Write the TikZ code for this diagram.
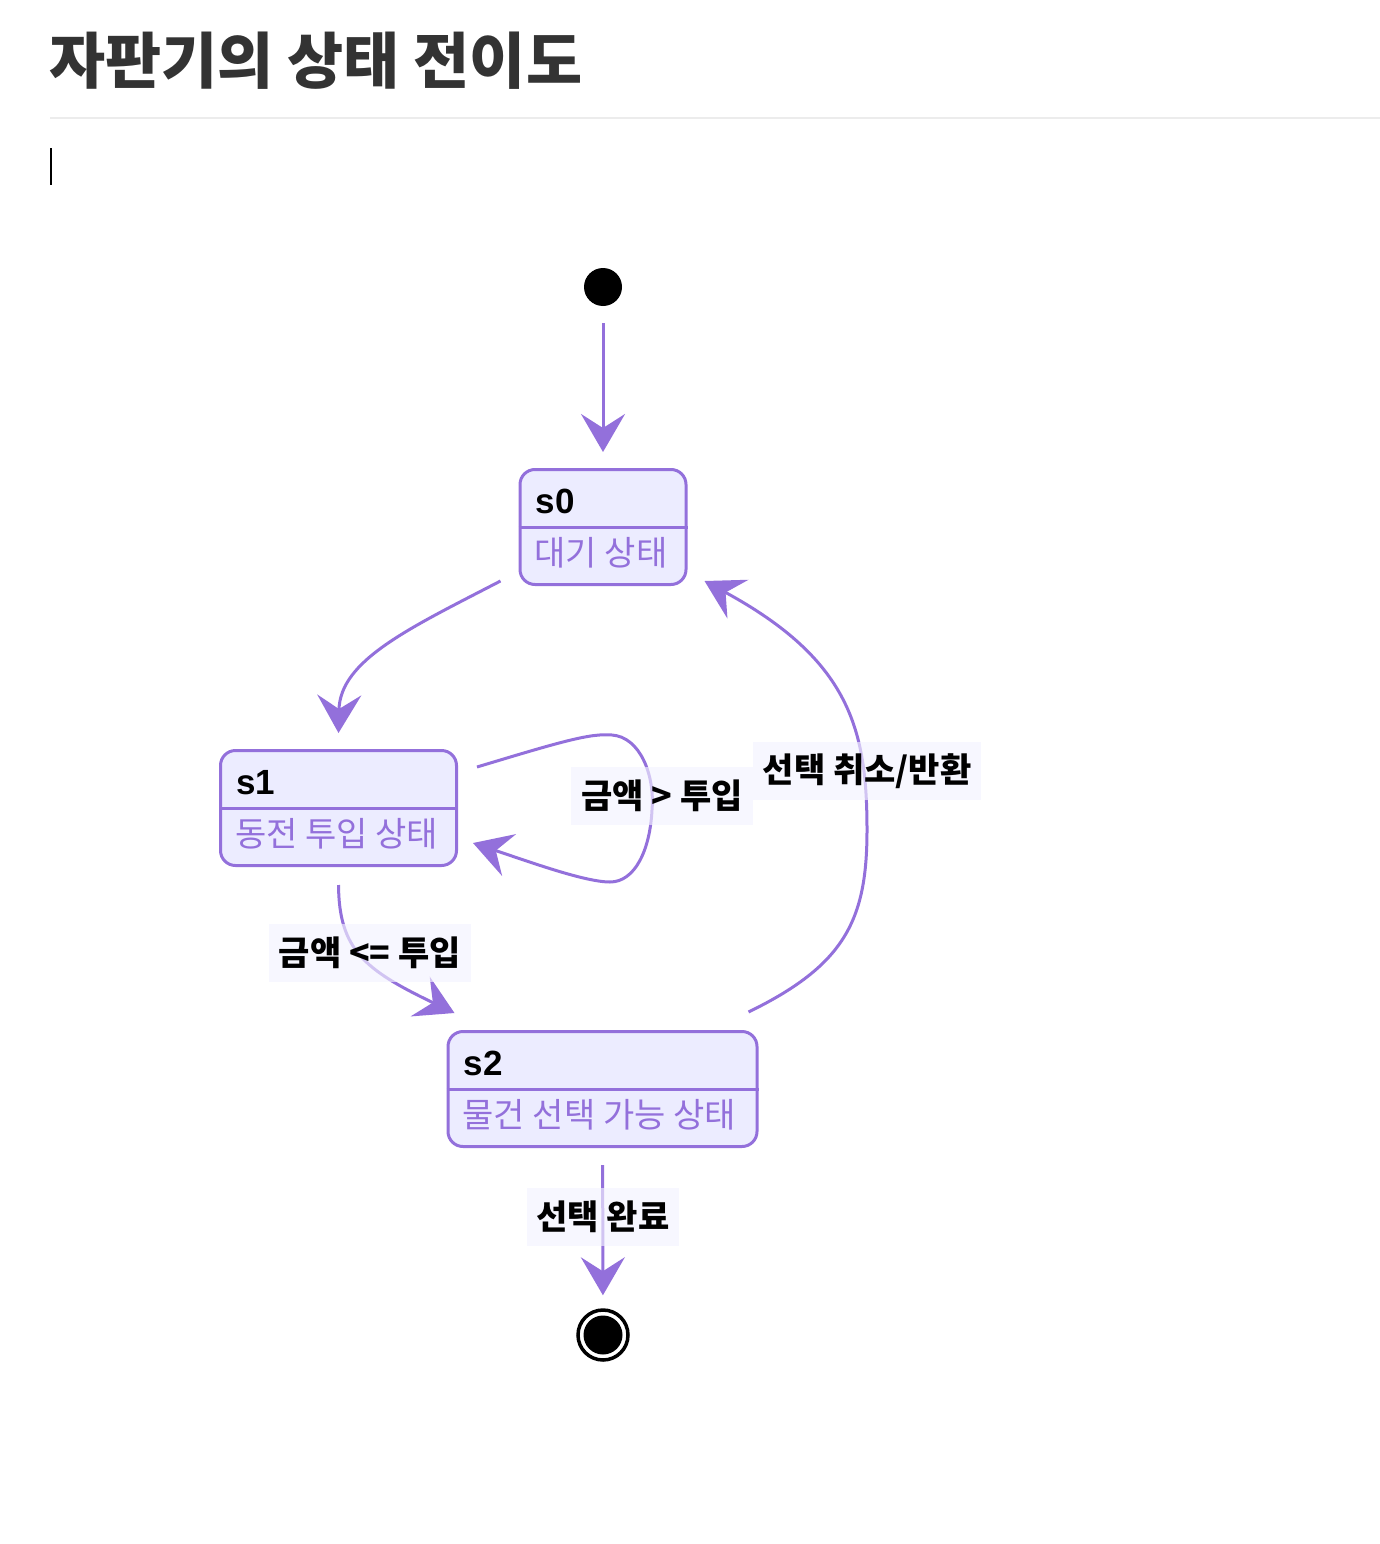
\documentclass[tikz,border=0pt]{standalone}
\usepackage{fontspec}
\setmainfont{Noto Sans CJK KR}
\newfontfamily\latinsans{Liberation Sans}
\usetikzlibrary{arrows.meta}
\usetikzlibrary{calc}
\definecolor{mpurple}{RGB}{147,112,219}
\definecolor{mfill}{RGB}{236,236,255}
\definecolor{lblbg}{RGB}{243,242,255}
\definecolor{titlegray}{RGB}{51,51,51}
\definecolor{rulegray}{RGB}{236,236,236}
\tikzset{
  statebox/.style={draw=mpurple, fill=mfill, line width=3pt, rounded corners=15pt, inner sep=0pt, minimum height=115pt},
  statename/.style={anchor=base west, inner sep=0pt, font=\latinsans\bfseries\fontsize{35}{35}\selectfont},
  statedesc/.style={anchor=base west, inner sep=0pt, text=mpurple, font=\fontsize{34}{34}\selectfont},
  trans/.style={draw=mpurple, line width=3pt, -{Stealth[length=38pt,width=44pt,inset=14pt]}},
  elabel/.style={fill=lblbg, fill opacity=0.65, text opacity=1, inner xsep=10pt, minimum height=58pt, font=\bfseries\fontsize{34}{34}\selectfont}
}

\begin{document}
\begin{tikzpicture}[x=1pt,y=-1pt]
\useasboundingbox (0,0) rectangle (1380,1544);
\node[anchor=base west, inner sep=0pt, text=titlegray, font=\bfseries\fontsize{61}{61}\selectfont] (Title) at (49,84) {자판기의 상태 전이도};
\draw[rulegray, line width=2pt] (50,118) -- (1380,118);
\draw[black, line width=1.5pt] (51,148) -- (51,185);

\node[circle, fill=black, minimum size=38pt, inner sep=0pt] (Start) at (603,287) {};
\node[statebox, minimum width=166pt] (S0) at (603,527) {};
\node[statebox, minimum width=236pt] (S1) at (338.5,808) {};
\node[statebox, minimum width=309pt] (S2) at (602.5,1089) {};
\node[circle, draw=black, line width=3.5pt, fill=white, minimum size=50pt, inner sep=0pt] (End) at (603,1335) {};
\node[circle, fill=black, minimum size=39pt, inner sep=0pt] (EndDot) at (End) {};

\draw[mpurple, line width=3pt] (S0.west) -- (S0.east);
\draw[mpurple, line width=3pt] (S1.west) -- (S1.east);
\draw[mpurple, line width=3pt] (S2.west) -- (S2.east);
\node[statename] (S0name) at ($(S0.north west)+(17,45)$) {s0};
\node[statename] (S1name) at ($(S1.north west)+(17,45)$) {s1};
\node[statename] (S2name) at ($(S2.north west)+(17,45)$) {s2};
\node[statedesc] (S0desc) at ($(S0.north west)+(16,97)$) {대기 상태};
\node[statedesc] (S1desc) at ($(S1.north west)+(16,97)$) {동전 투입 상태};
\node[statedesc] (S2desc) at ($(S2.north west)+(16,97)$) {물건 선택 가능 상태};

\draw[trans, shorten <=17pt, shorten >=16pt] (Start) -- (S0);
\draw[trans] ($(S0.south west)+(-18,-5)$) .. controls (410,628) and (340,660) .. ($(S1.north)+(0,-16)$);
\draw[trans] ($(S1.north east)+(19,18)$) .. controls (560,742) and (590,733) .. (612,735)
  .. controls (640,737) and (655,775) .. (652,810)
  .. controls (650,850) and (635,882) .. (610,882)
  .. controls (585,882) and (530,862) .. ($(S1.east)+(15,35)$);
\draw[trans] ($(S1.south)+(0,18)$) .. controls (339,950) and (365,970) .. ($(S2.north west)+(8,-17)$);
\draw[trans] ($(S2.north east)+(-10,-18)$) .. controls (845,965) and (867,920) .. (867,830)
  .. controls (867,730) and (850,660) .. ($(S0.south east)+(17,-5)$);
\draw[trans, shorten <=17pt, shorten >=13pt] (S2) -- (End);

\node[elabel] (Lloop) at (662,796) {금액 > 투입};
\node[elabel] (Ldown) at (370,953) {금액 <= 투입};
\node[elabel] (Lback) at (867,771) {선택 취소/반환};
\node[elabel] (Lend) at (603,1217) {선택 완료};
\end{tikzpicture}
\end{document}
